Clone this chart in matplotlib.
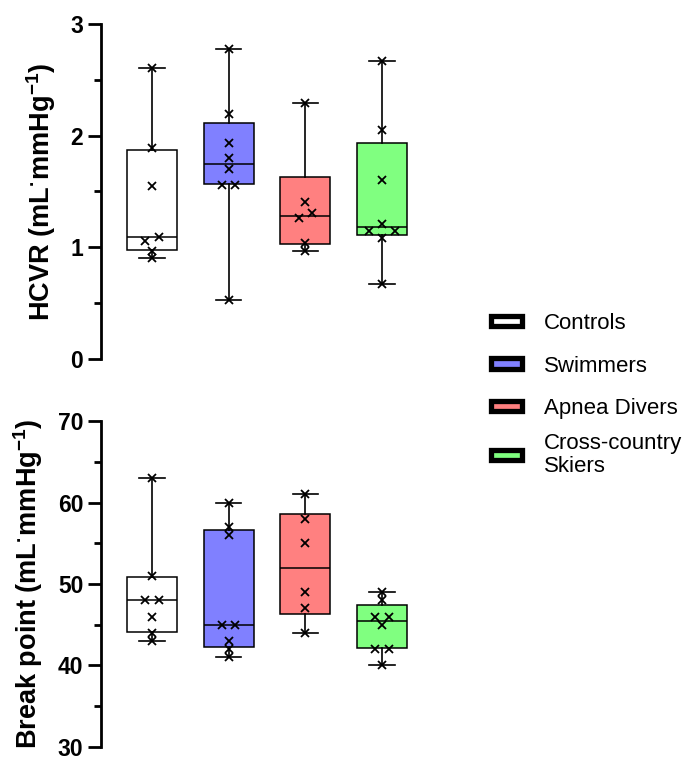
import matplotlib
matplotlib.use('Agg')
import matplotlib.pyplot as plt
from matplotlib.patches import Patch
from matplotlib.ticker import MultipleLocator
import numpy as np

plt.rcParams['font.family'] = ['Liberation Sans', 'DejaVu Sans']
plt.rcParams['mathtext.fontset'] = 'custom'
plt.rcParams['mathtext.rm'] = 'Liberation Sans:bold'
plt.rcParams['mathtext.it'] = 'Liberation Sans:bold'
plt.rcParams['mathtext.bf'] = 'Liberation Sans:bold'

# Groups and fill colours
GROUPS = ['Controls', 'Swimmers', 'Apnea Divers', 'Cross-country\nSkiers']
COLORS = ['#FFFFFF', '#8080FF', '#FF8080', '#80FF80']

# HCVR panel (mL.mmHg-1), individual subjects
hcvr_controls = [2.61, 1.89, 1.55, 1.09, 1.06, 0.97, 0.90]
hcvr_swimmers = [2.78, 2.19, 1.93, 1.80, 1.70, 1.56, 1.56, 0.53]
hcvr_apnea = [2.29, 1.41, 1.31, 1.26, 1.04, 0.97]
hcvr_skiers = [2.67, 2.05, 1.60, 1.21, 1.15, 1.15, 1.08, 0.67]
hcvr_q1 = [0.98, 1.57, 1.03, 1.11]
hcvr_med = [1.09, 1.75, 1.28, 1.18]
hcvr_q3 = [1.87, 2.11, 1.63, 1.93]

# Break point panel, individual subjects
bp_controls = [63, 51, 48, 48, 46, 44, 43]
bp_swimmers = [60, 57, 56, 45, 45, 43, 42, 41]
bp_apnea = [61, 58, 55, 49, 47, 44]
bp_skiers = [49, 48, 46, 46, 45, 42, 42, 40]
bp_q1 = [44.1, 42.3, 46.3, 42.1]
bp_med = [48.0, 45.0, 52.0, 45.5]
bp_q3 = [50.9, 56.6, 58.6, 47.4]

HCVR_TICKS = [0, 1, 2, 3]
BP_TICKS = [30, 40, 50, 60, 70]


def swarm_offsets(vals, ax, thr_px=7.0, step_px=13.3):
    """
        Spread points that would sit on top of each other (prism style)
    """
    t0 = ax.transData.transform((0, 0))
    px_x = ax.transData.transform((1, 0))[0] - t0[0]
    px_y = ax.transData.transform((0, 1))[1] - t0[1]
    vals = np.asarray(vals, dtype=float)
    order = np.argsort(vals)
    offs = np.zeros(len(vals))
    clusters = []
    cur = [order[0]]
    for a, b in zip(order[:-1], order[1:]):
        if (vals[b] - vals[a]) * px_y < thr_px:
            cur.append(b)
        else:
            clusters.append(cur)
            cur = [b]
    clusters.append(cur)
    for c in clusters:
        k = len(c)
        slots = sorted(np.arange(k) - (k - 1) / 2, key=lambda s: (abs(s), -s))
        c_sorted = sorted(c, key=lambda i: -vals[i])
        for i, s in zip(c_sorted, slots):
            offs[i] = s * step_px / px_x
    return offs


def box_panel(ax, groups_pts, q1, med, q3, ticks, minor, ylabel, label_x):
    pos = np.arange(1, len(groups_pts) + 1)
    ax.set_xlim(0.33, 4.5)
    ax.set_ylim(ticks[0], ticks[-1])

    stats = []
    for pts, a, m, b in zip(groups_pts, q1, med, q3):
        stats.append(dict(med=m, q1=a, q3=b, whislo=min(pts), whishi=max(pts), fliers=[]))
    bp = ax.bxp(stats, positions=pos, widths=0.65, capwidths=0.33,
                patch_artist=True, showfliers=False,
                boxprops=dict(edgecolor='black', linewidth=1.1),
                medianprops=dict(color='black', linewidth=1.1),
                whiskerprops=dict(color='black', linewidth=1.2),
                capprops=dict(color='black', linewidth=1.2))
    for patch, c in zip(bp['boxes'], COLORS):
        patch.set_facecolor(c)

    # Individual subjects on top of boxes
    for p, pts in zip(pos, groups_pts):
        offs = swarm_offsets(pts, ax)
        ax.plot(p + offs, pts, 'x', color='black', ms=5.5, mew=1.3,
                clip_on=False, zorder=5)

    for s in ['top', 'right', 'bottom']:
        ax.spines[s].set_visible(False)
    ax.spines['left'].set_linewidth(2.0)
    ax.set_xticks([])
    ax.set_yticks(ticks)
    ax.yaxis.set_minor_locator(MultipleLocator(minor))
    ax.tick_params(axis='y', which='major', length=9.5, width=2.0, labelsize=16.5, pad=3)
    ax.tick_params(axis='y', which='minor', length=5, width=2.0)
    for lbl in ax.get_yticklabels():
        lbl.set_fontweight('bold')
    ax.set_ylabel(ylabel, fontsize=19.5, fontweight='bold')
    ax.yaxis.set_label_coords(label_x, 0.5)


fig = plt.figure(figsize=(6.86, 7.62), dpi=100)
ax1 = fig.add_axes([0.1468, 0.5289, 0.466, 0.4396])
ax2 = fig.add_axes([0.1468, 0.0197, 0.466, 0.4278])

box_panel(ax1, [hcvr_controls, hcvr_swimmers, hcvr_apnea, hcvr_skiers],
          hcvr_q1, hcvr_med, hcvr_q3, HCVR_TICKS, 0.5,
          r'HCVR (mL$^{·}$mmHg$^{-1}$)', -0.134)
box_panel(ax2, [bp_controls, bp_swimmers, bp_apnea, bp_skiers],
          bp_q1, bp_med, bp_q3, BP_TICKS, 5,
          r'Break point (mL$^{·}$mmHg$^{-1}$)', -0.174)

# Legend: first three groups, then the two-line one on its own
handles = [Patch(facecolor=c, edgecolor='black', linewidth=3.8) for c in COLORS]
leg_kw = dict(frameon=False, fontsize=16, handlelength=1.4, handleheight=0.35,
              handletextpad=1.0, borderpad=0, borderaxespad=0)
fig.legend(handles[:3], GROUPS[:3], loc='center left',
           bbox_to_anchor=(491 / 686, 1 - 366 / 762), labelspacing=0.97, **leg_kw)
leg2 = fig.legend(handles[3:], GROUPS[3:], loc='center left',
                  bbox_to_anchor=(491 / 686, 1 - 455 / 762), **leg_kw)
leg2.get_texts()[0].set_linespacing(1.1)

fig.savefig('out.png', dpi=100)
